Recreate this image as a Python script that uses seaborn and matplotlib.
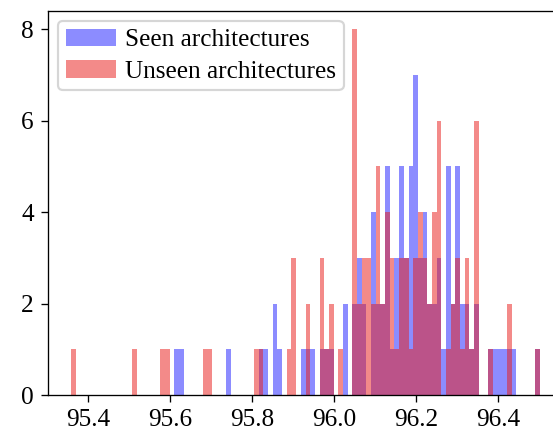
import numpy as np
import pandas as pd
import matplotlib
matplotlib.use("Agg")
import matplotlib.pyplot as plt
import seaborn as sns

# Accuracy values (bin centres, %) and the number of architectures at each one
seen_acc = [95.6165, 95.6279, 95.7421, 95.8221, 95.8335, 95.8564, 95.8678,
            95.9249, 95.9363, 95.9477, 95.9706, 95.9820, 95.9934, 96.0277,
            96.0505, 96.0620, 96.0734, 96.0962, 96.1076, 96.1191, 96.1305,
            96.1419, 96.1533, 96.1648, 96.1762, 96.1876, 96.1990, 96.2105,
            96.2219, 96.2333, 96.2447, 96.2561, 96.2676, 96.2790, 96.2904,
            96.3018, 96.3133, 96.3247, 96.3361, 96.3475, 96.3818, 96.3932,
            96.4046, 96.4161, 96.4275, 96.4389, 96.4960]
seen_count = [1, 1, 1, 1, 1, 2, 1,
              1, 1, 1, 1, 1, 1, 2,
              2, 3, 2, 4, 2, 2, 5,
              1, 3, 5, 3, 5, 7, 3,
              4, 2, 2, 3, 1, 5, 2,
              5, 2, 2, 1, 2, 1, 1,
              1, 1, 1, 1, 1]

unseen_acc = [95.3652, 95.5137, 95.5822, 95.5937, 95.6850, 95.6965, 95.8107,
              95.8221, 95.8906, 95.9021, 95.9363, 95.9706, 95.9820, 95.9934,
              96.0163, 96.0505, 96.0620, 96.0734, 96.0848, 96.0962, 96.1076,
              96.1191, 96.1305, 96.1419, 96.1533, 96.1648, 96.1762, 96.1876,
              96.1990, 96.2105, 96.2219, 96.2333, 96.2447, 96.2561, 96.2790,
              96.2904, 96.3018, 96.3133, 96.3247, 96.3361, 96.3475, 96.3818,
              96.4275, 96.4960]
unseen_count = [1, 1, 1, 1, 1, 1, 1,
                1, 1, 3, 2, 3, 1, 2,
                1, 8, 2, 3, 3, 2, 5,
                2, 4, 3, 1, 3, 3, 1,
                3, 4, 3, 2, 4, 6, 1,
                2, 3, 1, 3, 1, 6, 1,
                2, 1]

series_labels = ["Seen architectures", "Unseen architectures"]

seen_df = pd.DataFrame({"acc": seen_acc, "count": seen_count})
unseen_df = pd.DataFrame({"acc": unseen_acc, "count": unseen_count})

# Shared bin edges for both histograms
edges = np.linspace(95.3595, 96.5017, 101).tolist()

plt.rcParams["font.family"] = ["Liberation Serif", "DejaVu Serif"]
plt.rcParams["font.size"] = 11.5
plt.rcParams["axes.linewidth"] = 0.6
plt.rcParams["xtick.major.width"] = 0.6
plt.rcParams["ytick.major.width"] = 0.6
plt.rcParams["xtick.major.size"] = 3
plt.rcParams["ytick.major.size"] = 3

fig = plt.figure(figsize=(553 / 158, 430 / 158), dpi=158)
ax = fig.add_axes([48 / 553, 35 / 430, 515 / 553, 384 / 430])

sns.histplot(data=seen_df, x="acc", weights="count", bins=edges,
             color="blue", alpha=0.45, linewidth=0,
             label=series_labels[0], ax=ax)
sns.histplot(data=unseen_df, x="acc", weights="count", bins=edges,
             color="#e8201e", alpha=0.52, linewidth=0,
             label=series_labels[1], ax=ax)

ax.set_xlabel("")
ax.set_ylabel("")
ax.set_xticks([95.4, 95.6, 95.8, 96.0, 96.2, 96.4])
ax.set_yticks([0, 2, 4, 6, 8])
ax.legend(loc="upper left", borderaxespad=0.4, handletextpad=0.35,
          borderpad=0.3, labelspacing=0.35)

fig.savefig("out.png", dpi=158)
